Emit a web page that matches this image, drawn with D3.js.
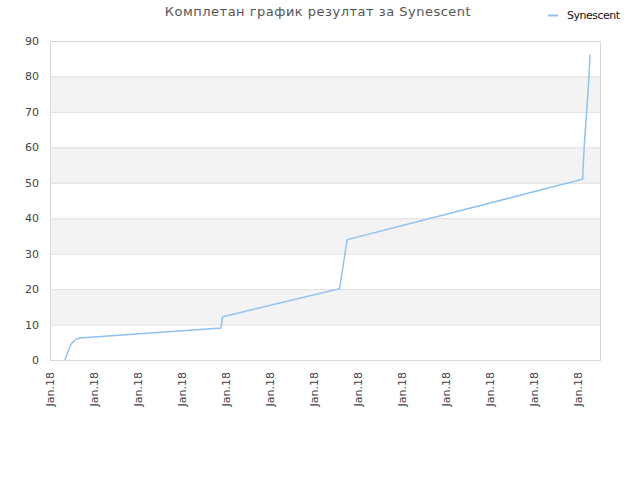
<!DOCTYPE html>
<html>
<head>
<meta charset="utf-8">
<script src="https://cdn.jsdelivr.net/npm/d3@7"></script>
<style>
	body { margin: 0; background: #fff; }
	text { font-family: "DejaVu Sans", sans-serif; }
</style>
</head>
<body>
<svg id="graphique" width="640" height="480"></svg>
<script>
// donnees
var seriesName = "Synescent";
var dates = [
	"2018-01-01T16:19", "2018-01-01T18:30", "2018-01-01T21:00", "2018-01-02T00:00",
	"2018-01-02T04:19", "2018-01-02T08:53", "2018-01-08T18:43", "2018-01-08T20:10",
	"2018-01-08T22:05", "2018-01-14T04:05", "2018-01-14T08:34",
	"2018-01-14T12:14", "2018-01-14T14:53", "2018-01-25T05:31", "2018-01-25T07:12",
	"2018-01-25T11:31", "2018-01-25T13:41"
];
var values = [0, 1.6, 3.4, 4.8, 5.9, 6.2, 9.0, 12.0, 12.3, 20.1, 27.5, 33.8, 34.1, 51.0, 60, 76, 86.2];
var yTicks = [0, 10, 20, 30, 40, 50, 60, 70, 80, 90];
var xTickDates = ["2018-01-01", "2018-01-03", "2018-01-05", "2018-01-07", "2018-01-09",
	"2018-01-11", "2018-01-13", "2018-01-15", "2018-01-17", "2018-01-19", "2018-01-21",
	"2018-01-23", "2018-01-25"];
var title = "Комплетан график резултат за Synescent";

var parse = d3.isoParse;
var data = dates.map(function(d, i){ return { date: parse(d), value: values[i] }; });

var graphique = d3.select("#graphique");
var MARGINS = { top: 41, right: 40, bottom: 120, left: 50 };
var WIDTH = 640, HEIGHT = 480;

var xScale = d3.scaleTime()
	.domain([parse("2018-01-01T00:00"), parse("2018-01-26T00:30")])
	.range([MARGINS.left, WIDTH - MARGINS.right]);
var yScale = d3.scaleLinear().domain([0, 90]).range([HEIGHT - MARGINS.bottom, MARGINS.top]);

// bandes grises
for(var i = 10; i < 90; i += 20){
	graphique.append("rect")
		.attr("x", MARGINS.left)
		.attr("y", yScale(i + 10))
		.attr("width", WIDTH - MARGINS.right - MARGINS.left)
		.attr("height", yScale(i) - yScale(i + 10))
		.attr("fill", "#f3f3f3");
}

// lignes de dizaines
graphique.append("g").selectAll("line").data(yTicks).join("line")
	.attr("x1", MARGINS.left).attr("x2", WIDTH - MARGINS.right)
	.attr("y1", function(d){ return yScale(d) + 0.5; })
	.attr("y2", function(d){ return yScale(d) + 0.5; })
	.attr("stroke", "#e0e0e0");

// cadre
graphique.append("rect")
	.attr("x", MARGINS.left + 0.5).attr("y", MARGINS.top + 0.5)
	.attr("width", WIDTH - MARGINS.right - MARGINS.left)
	.attr("height", HEIGHT - MARGINS.bottom - MARGINS.top)
	.attr("fill", "none").attr("stroke", "#d8d8d8");

// axes
var yAxis = d3.axisLeft(yScale).tickValues(yTicks).tickSize(0).tickPadding(11);
var gy = graphique.append("g").attr("transform", "translate(" + MARGINS.left + ",0)").call(yAxis);
gy.select(".domain").remove();
gy.selectAll("text").attr("fill", "#444").style("font-size", "11px");

var xAxis = d3.axisBottom(xScale)
	.tickValues(xTickDates.map(function(d){ return parse(d + "T00:00"); }))
	.tickFormat(d3.timeFormat("%b.%y"))
	.tickSize(0);
var gx = graphique.append("g").attr("transform", "translate(0," + (HEIGHT - MARGINS.bottom) + ")").call(xAxis);
gx.select(".domain").remove();
gx.selectAll("text")
	.attr("fill", "#444").style("font-size", "11px")
	.attr("transform", "rotate(-90)")
	.attr("text-anchor", "end")
	.attr("x", -12).attr("y", 0).attr("dy", "0.35em");

// courbe
var line = d3.line()
	.x(function(d){ return xScale(d.date); })
	.y(function(d){ return yScale(d.value); });
graphique.append("path")
	.attr("d", line(data))
	.attr("stroke", "#90c2f0")
	.attr("stroke-width", 1.5)
	.attr("fill", "none");

// titre
graphique.append("text")
	.attr("x", 318).attr("y", 16)
	.attr("text-anchor", "middle")
	.attr("fill", "#555")
	.style("font-size", "13px")
	.style("letter-spacing", "0.5px")
	.text(title);

// legende
graphique.append("line")
	.attr("x1", 548).attr("x2", 558).attr("y1", 15.5).attr("y2", 15.5)
	.attr("stroke", "#90c2f0").attr("stroke-width", 2);
graphique.append("text")
	.attr("x", 567).attr("y", 19)
	.attr("fill", "#111")
	.style("font-size", "11px")
	.style("letter-spacing", "-0.5px")
	.text(seriesName);
</script>
</body>
</html>
